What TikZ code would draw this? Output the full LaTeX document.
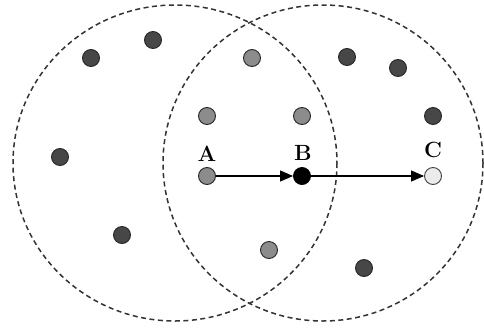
\documentclass[tikz,border=0pt]{standalone}
\usepackage{fontspec}
\usetikzlibrary{arrows.meta}
\begin{document}
\begin{tikzpicture}[x=1pt,y=-1pt,
  zone/.style={draw=black!80, line width=1.5pt, dash pattern=on 5pt off 3.5pt},
  dot/.style={circle, draw=black!85, line width=0.9pt, minimum size=17pt, inner sep=0pt},
  darkdot/.style={dot, fill=black!72},
  graydot/.style={dot, fill=black!45},
  blackdot/.style={dot, fill=black, draw=black},
  lightdot/.style={dot, fill=black!8, draw=black!75},
  lbl/.style={font=\fontsize{22}{24}\selectfont\bfseries, inner sep=0pt},
  link/.style={line width=1.1pt, -{Triangle[length=13pt,width=11pt]}}]
\useasboundingbox (0,0) rectangle (484,327);
\fill[white] (0,0) rectangle (484,327);
\draw[zone] (175,163) ellipse [x radius=162, y radius=158];
\draw[zone] (323,163) ellipse [x radius=160, y radius=158];
\node[darkdot] (d1) at (91,58) {};
\node[darkdot] (d2) at (153,40) {};
\node[graydot] (g1) at (252,58) {};
\node[darkdot] (d3) at (347,57) {};
\node[darkdot] (d4) at (398,68) {};
\node[graydot] (g2) at (207,116) {};
\node[graydot] (g3) at (302,116) {};
\node[darkdot] (d5) at (433,116) {};
\node[darkdot] (d6) at (60,157) {};
\node[graydot] (a) at (207,176) {};
\node[blackdot] (b) at (302,176) {};
\node[lightdot] (c) at (433,176) {};
\node[darkdot] (d7) at (122,235) {};
\node[graydot] (g4) at (269,250) {};
\node[darkdot] (d8) at (364,268) {};
\node[lbl] (la) at (207,154) {A};
\node[lbl] (lb) at (303,153) {B};
\node[lbl] (lc) at (433,150) {C};
\draw[link] (a) -- (b);
\draw[link] (b) -- (c);
\end{tikzpicture}
\end{document}
